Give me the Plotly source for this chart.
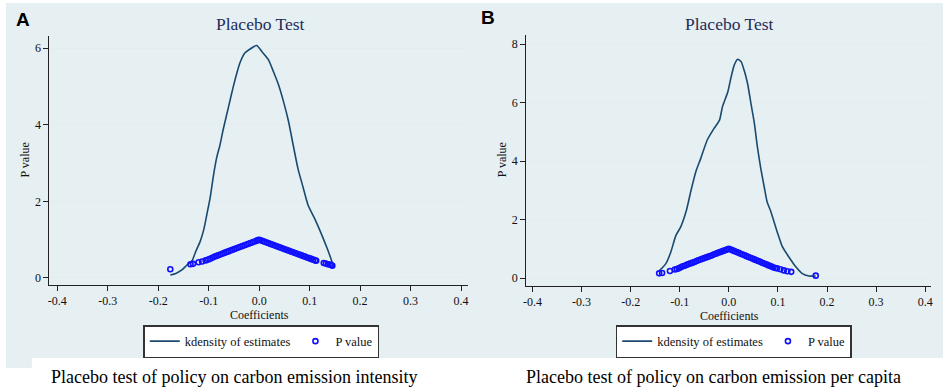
import plotly.graph_objects as go

# ---------------- data ----------------
# Panel A: kernel density of placebo estimates
kd_a_x = [-0.176, -0.165, -0.153, -0.143, -0.133, -0.126, -0.117, -0.110, -0.103, -0.097,
          -0.090, -0.084, -0.078, -0.071, -0.061, -0.051, -0.044, -0.038, -0.028, -0.020,
          -0.005, 0.005, 0.018, 0.028, 0.038, 0.048, 0.058, 0.067, 0.077, 0.087,
          0.097, 0.110, 0.123, 0.136, 0.145]
kd_a_y = [0.08, 0.12, 0.21, 0.34, 0.45, 0.68, 0.95, 1.25, 1.70, 2.10,
          2.72, 3.15, 3.45, 3.89, 4.45, 5.01, 5.36, 5.62, 5.88, 5.96,
          6.07, 5.92, 5.71, 5.40, 5.06, 4.62, 4.10, 3.50, 2.85, 2.37,
          1.90, 1.55, 1.16, 0.73, 0.40]

# Panel A: P values of placebo estimates
pv_a_x = [-0.176, -0.136, -0.131, -0.120, -0.113, -0.106, -0.101, -0.097,
          -0.093, -0.089, -0.085, -0.081, -0.077, -0.073, -0.069, -0.065, -0.061, -0.057,
          -0.053, -0.049, -0.045, -0.041, -0.037, -0.033, -0.029, -0.025, -0.021, -0.017,
          -0.013, -0.009, -0.005, -0.002, 0.000,
          0.003, 0.007, 0.011, 0.015, 0.019, 0.023, 0.027, 0.031, 0.035, 0.039,
          0.043, 0.047, 0.051, 0.055, 0.059, 0.063, 0.067, 0.071, 0.075, 0.079,
          0.083, 0.087, 0.091, 0.095, 0.099, 0.103, 0.107, 0.111, 0.113,
          0.128, 0.132, 0.136, 0.140, 0.143, 0.145]
pv_a_y = [0.23, 0.36, 0.37, 0.41, 0.43, 0.46, 0.48, 0.50,
          0.53, 0.555, 0.575, 0.595, 0.615, 0.635, 0.655, 0.675, 0.695, 0.715,
          0.735, 0.755, 0.775, 0.795, 0.815, 0.835, 0.855, 0.875, 0.895, 0.915,
          0.935, 0.955, 0.975, 0.99, 1.00,
          0.985, 0.966, 0.946, 0.927, 0.907, 0.888, 0.869, 0.849, 0.830, 0.810,
          0.791, 0.771, 0.752, 0.732, 0.713, 0.693, 0.674, 0.654, 0.635, 0.615,
          0.596, 0.576, 0.557, 0.537, 0.518, 0.498, 0.479, 0.459, 0.450,
          0.39, 0.38, 0.36, 0.35, 0.34, 0.32]

# Panel B: kernel density of placebo estimates
kd_b_x = [-0.141, -0.135, -0.128, -0.118, -0.108, -0.098, -0.087, -0.077, -0.067, -0.057,
          -0.044, -0.030, -0.019, -0.013, -0.002, 0.004, 0.011, 0.018, 0.025, 0.031,
          0.038, 0.045, 0.052, 0.058, 0.065, 0.072, 0.078, 0.085, 0.091, 0.099,
          0.109, 0.123, 0.136, 0.149, 0.163, 0.177]
kd_b_y = [0.27, 0.36, 0.50, 0.90, 1.45, 1.75, 2.28, 3.00, 3.65, 4.10,
          4.72, 5.12, 5.40, 5.86, 6.37, 6.83, 7.28, 7.48, 7.40, 7.11,
          6.66, 5.97, 5.29, 4.50, 3.75, 3.12, 2.60, 2.30, 1.98, 1.55,
          1.07, 0.70, 0.39, 0.16, 0.07, 0.07]

# Panel B: P values of placebo estimates
pv_b_x = [-0.142, -0.136, -0.120, -0.110, -0.106, -0.102,
          -0.098, -0.094, -0.090, -0.086, -0.082, -0.078, -0.074, -0.070, -0.066, -0.062,
          -0.058, -0.054, -0.050, -0.046, -0.042, -0.038, -0.034, -0.030, -0.026, -0.022,
          -0.018, -0.014, -0.010, -0.006, -0.003, 0.000,
          0.004, 0.008, 0.012, 0.016, 0.020, 0.024, 0.028, 0.032, 0.036, 0.040,
          0.044, 0.048, 0.052, 0.056, 0.060, 0.064, 0.068, 0.072, 0.076, 0.080,
          0.084, 0.087,
          0.091, 0.095, 0.098, 0.105, 0.112, 0.119, 0.127, 0.177]
pv_b_y = [0.16, 0.17, 0.24, 0.29, 0.31, 0.33,
          0.37, 0.40, 0.42, 0.45, 0.475, 0.50, 0.525, 0.55, 0.58, 0.605,
          0.63, 0.655, 0.68, 0.705, 0.73, 0.755, 0.78, 0.81, 0.835, 0.86,
          0.885, 0.91, 0.935, 0.96, 0.98, 1.00,
          0.972, 0.944, 0.916, 0.888, 0.860, 0.832, 0.804, 0.776, 0.748, 0.720,
          0.692, 0.664, 0.636, 0.608, 0.580, 0.552, 0.524, 0.496, 0.468, 0.440,
          0.412, 0.39,
          0.36, 0.34, 0.33, 0.30, 0.26, 0.23, 0.21, 0.08]

# Tick labels
x_tickvals = [-0.4, -0.3, -0.2, -0.1, 0.0, 0.1, 0.2, 0.3, 0.4]
x_ticktext = ["-0.4", "-0.3", "-0.2", "-0.1", "0.0", "0.1", "0.2", "0.3", "0.4"]
y_ticks_a = [0, 2, 4, 6]
y_ticks_b = [0, 2, 4, 6, 8]

# Texts
panel_title = "Placebo Test"
x_title = "Coefficients"
y_title = "P value"
line_name = "kdensity of estimates"
point_name = "P value"
caption_a = "Placebo test of policy on carbon emission intensity"
caption_b = "Placebo test of policy on carbon emission per capita"

# ---------------- style ----------------
W, H = 948, 388
SERIF = "Liberation Serif, Times New Roman, serif"
LINE_COLOR = "#1a4a72"
PT_COLOR = "#1010ff"
BG = "#e6eff1"
GRID = "#e3ecee"
TITLE_COLOR = "#1d2d5a"


def px(x):
    return x / W


def py(y):
    return 1 - y / H


fig = go.Figure()

fig.add_trace(go.Scatter(x=kd_a_x, y=kd_a_y, mode="lines", name=line_name,
                         line=dict(color=LINE_COLOR, width=1.6, shape="spline", smoothing=0.6),
                         xaxis="x", yaxis="y", legend="legend"))
fig.add_trace(go.Scatter(x=pv_a_x, y=pv_a_y, mode="markers", name=point_name,
                         marker=dict(symbol="circle-open", size=5, color=PT_COLOR,
                                     line=dict(width=1.6, color=PT_COLOR)),
                         xaxis="x", yaxis="y", legend="legend"))
fig.add_trace(go.Scatter(x=kd_b_x, y=kd_b_y, mode="lines", name=line_name,
                         line=dict(color=LINE_COLOR, width=1.6, shape="spline", smoothing=0.6),
                         xaxis="x2", yaxis="y2", legend="legend2"))
fig.add_trace(go.Scatter(x=pv_b_x, y=pv_b_y, mode="markers", name=point_name,
                         marker=dict(symbol="circle-open", size=5, color=PT_COLOR,
                                     line=dict(width=1.6, color=PT_COLOR)),
                         xaxis="x2", yaxis="y2", legend="legend2"))

tickfont = dict(family=SERIF, size=12, color="#111")
xcommon = dict(showline=True, linecolor="#222", linewidth=1, ticks="outside", ticklen=5,
               tickcolor="#222", tickwidth=1, showgrid=False, zeroline=False,
               tickvals=x_tickvals, ticktext=x_ticktext, tickfont=tickfont, fixedrange=True)
ycommon = dict(showline=True, linecolor="#222", linewidth=1, ticks="outside", ticklen=5,
               tickcolor="#222", tickwidth=1, showgrid=True, gridcolor=GRID, gridwidth=1.2,
               zeroline=False, tickfont=tickfont, fixedrange=True)

legend_style = dict(xanchor="left", yanchor="top", orientation="h",
                    bgcolor="white", bordercolor="#333", borderwidth=1.5,
                    font=dict(family=SERIF, size=12.5, color="#111"), traceorder="normal")

fig.update_layout(
    width=W, height=H,
    margin=dict(l=0, r=0, t=0, b=0),
    paper_bgcolor="white", plot_bgcolor="white",
    showlegend=True,
    xaxis=dict(domain=[px(46.7), px(467)], range=[-0.4154, 0.4128], anchor="y", **xcommon),
    yaxis=dict(domain=[py(285), py(36)], range=[-0.183, 6.32], anchor="x",
               tickvals=y_ticks_a, **ycommon),
    xaxis2=dict(domain=[px(526), px(933)], range=[-0.4128, 0.412], anchor="y2", **xcommon),
    yaxis2=dict(domain=[py(285.7), py(35)], range=[-0.263, 8.31], anchor="x2",
                tickvals=y_ticks_b, **ycommon),
    legend=dict(x=px(141), y=py(325), **legend_style),
    legend2=dict(x=px(616), y=py(325), **legend_style),
)

# backgrounds
fig.add_shape(type="rect", xref="paper", yref="paper", x0=px(3), x1=px(945), y0=py(358), y1=py(3),
              fillcolor=BG, line=dict(width=0), layer="below")
fig.add_shape(type="rect", xref="paper", yref="paper", x0=px(3), x1=px(29), y0=py(368), y1=py(357),
              fillcolor=BG, line=dict(width=0), layer="below")

annotations = [
    dict(x=px(258.5), y=py(24), text=panel_title, font=dict(family=SERIF, size=17.5, color=TITLE_COLOR)),
    dict(x=px(730), y=py(24), text=panel_title, font=dict(family=SERIF, size=17.5, color=TITLE_COLOR)),
    dict(x=px(258), y=py(314.5), text=x_title, font=dict(family=SERIF, size=12, color="#111")),
    dict(x=px(730), y=py(315.5), text=x_title, font=dict(family=SERIF, size=12, color="#111")),
    dict(x=px(22.5), y=py(160), text=y_title, textangle=-90, font=dict(family=SERIF, size=12, color="#111")),
    dict(x=px(502), y=py(160), text=y_title, textangle=-90, font=dict(family=SERIF, size=12, color="#111")),
    dict(x=px(20.5), y=py(19.5), text="<b>A</b>", font=dict(family="Liberation Sans, Arial", size=19, color="#000")),
    dict(x=px(488), y=py(17.5), text="<b>B</b>", font=dict(family="Liberation Sans, Arial", size=19, color="#000")),
    dict(x=px(232.5), y=py(377), text=caption_a, font=dict(family=SERIF, size=18, color="#000")),
    dict(x=px(714), y=py(377), text=caption_b, font=dict(family=SERIF, size=18, color="#000")),
]
for a in annotations:
    a.update(xref="paper", yref="paper", showarrow=False, xanchor="center", yanchor="middle")
fig.update_layout(annotations=annotations)

fig.write_html("out.html", config={"displayModeBar": False},
               post_script="document.body.style.margin='0';document.body.style.overflow='hidden';")
